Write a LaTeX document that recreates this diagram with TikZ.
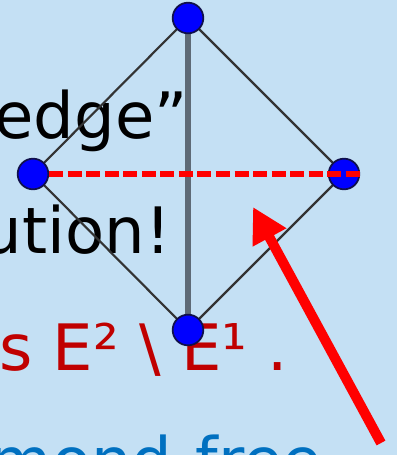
\documentclass[tikz,border=0pt]{standalone}
\usepackage{fontspec}
\setmainfont{DejaVu Sans}
\usetikzlibrary{arrows.meta}
\definecolor{slidebg}{HTML}{C4E0F4}
\definecolor{slidered}{HTML}{C00000}
\definecolor{slideblue}{HTML}{0070C0}
\definecolor{edgegray}{HTML}{5E6A76}
\definecolor{vertexrim}{HTML}{10104A}

\begin{document}
\begin{tikzpicture}[x=0.75pt,y=-0.75pt,
  vertex/.style={circle,fill=blue,draw=vertexrim,line width=1.3pt,minimum size=23pt,inner sep=0pt},
  thinedge/.style={draw=black!80,line width=1.6pt},
  bigtext/.style={inner sep=0pt,font=\fontsize{48}{58}\selectfont}]
  \clip(0,0)rectangle(397,455);
  \fill[slidebg](0,0)rectangle(397,455);
  % slide text behind the graph
  \node[bigtext,anchor=base east](t1)at(188,138){edge”};
  \node[bigtext,anchor=base east](t2)at(171,253){ution!};
  \node[bigtext,anchor=base west,text=slidered](t3)at(-1,370){s E² \textbackslash{} E¹ .};
  \node[bigtext,anchor=base east,text=slideblue](t4)at(322,483){mond-free};
  % the diamond
  \coordinate(vt)at(188,18);\coordinate(vl)at(33,174);
  \coordinate(vr)at(344,174);\coordinate(vb)at(188,330);
  \draw[thinedge](vt)--(vl)--(vb)--(vr)--cycle;
  \draw[draw=edgegray,line width=4.5pt](vt)--(vb);
  \node[vertex](top)at(vt){};\node[vertex](left)at(vl){};
  \node[vertex](right)at(vr){};\node[vertex](bottom)at(vb){};
  \draw[red,line width=4.5pt,dash pattern=on 10.5pt off 3.4pt](left.east)--(right.east);
  % pointer
  \coordinate(tail)at(381,443);\coordinate(tip)at(253,207);
  \draw[red,line width=7.5pt,-{Triangle[length=26pt,width=27pt]}](tail)--(tip);
\end{tikzpicture}
\end{document}
